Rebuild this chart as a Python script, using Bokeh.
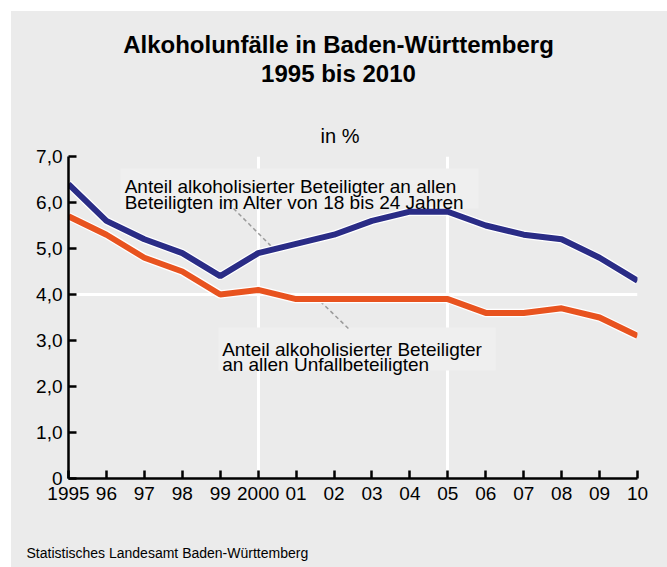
from bokeh.plotting import figure
from bokeh.layouts import column
from bokeh.models import Range1d, FixedTicker, Label, BoxAnnotation, Title
from bokeh.embed import file_html
from bokeh.resources import INLINE

# ---- data ----
years = [1995, 1996, 1997, 1998, 1999, 2000, 2001, 2002, 2003, 2004,
         2005, 2006, 2007, 2008, 2009, 2010]
young_share = [6.4, 5.6, 5.2, 4.9, 4.4, 4.9, 5.1, 5.3, 5.6, 5.8,
               5.8, 5.5, 5.3, 5.2, 4.8, 4.3]
all_share = [5.7, 5.3, 4.8, 4.5, 4.0, 4.1, 3.9, 3.9, 3.9, 3.9,
             3.9, 3.6, 3.6, 3.7, 3.5, 3.1]
x_tick_labels = ["1995", "96", "97", "98", "99", "2000", "01", "02", "03",
                 "04", "05", "06", "07", "08", "09", "10"]
y_ticks = [0, 1, 2, 3, 4, 5, 6, 7]
y_tick_labels = ["0", "1,0", "2,0", "3,0", "4,0", "5,0", "6,0", "7,0"]

title1 = "Alkoholunfälle in Baden-Württemberg"
title2 = "1995 bis 2010"
unit = "in %"
source = "Statistisches Landesamt Baden-Württemberg"
ann_young = ["Anteil alkoholisierter Beteiligter an allen",
             "Beteiligten im Alter von 18 bis 24 Jahren"]
ann_all = ["Anteil alkoholisierter Beteiligter",
           "an allen Unfallbeteiligten"]

# ---- style ----
PANEL = "#ebebeb"
BOX = "#efefef"
BLUE = "#2a2c86"
ORANGE = "#e8531f"
FONT = "Liberation Sans"
W = 656
BL, BR = 57, 30   # left / right borders shared by all stacked figures


def strip(height, x_range, y_range):
    f = figure(width=W, height=height, title=None,
               x_range=x_range, y_range=y_range,
               output_backend="svg", toolbar_location=None,
               x_axis_location=None, y_axis_location=None,
               min_border_left=BL, min_border_right=BR,
               min_border_top=0, min_border_bottom=0,
               background_fill_color=PANEL, border_fill_color=PANEL,
               outline_line_color=None)
    f.grid.visible = False
    return f


def lab(fig, x, y, text, size, bold=False, align="left"):
    fig.add_layout(Label(x=x, y=y, text=text, text_font=FONT,
                         text_font_size=size,
                         text_font_style="bold" if bold else "normal",
                         text_color="black", text_align=align,
                         text_baseline="alphabetic"))


# ---- header strip ----
top = strip(135, Range1d(68, 637), Range1d(146, 11))
lab(top, 338, 44, title1, "24px", bold=True, align="center")
lab(top, 338, 73, title2, "24px", bold=True, align="center")
lab(top, 339.5, 135, unit, "20px", align="center")

# ---- main chart ----
p = figure(width=W, height=384,
           x_range=Range1d(1995, 2010), y_range=Range1d(0, 7),
           output_backend="svg", toolbar_location=None,
           min_border_left=BL, min_border_right=BR,
           min_border_top=10, min_border_bottom=52,
           background_fill_color=PANEL, border_fill_color=PANEL,
           outline_line_color=None)

p.xgrid.ticker = FixedTicker(ticks=[2000, 2005, 2010])
p.ygrid.ticker = FixedTicker(ticks=[4, 7])
p.grid.grid_line_color = "white"
p.grid.grid_line_width = 3

p.xaxis.ticker = FixedTicker(ticks=years)
p.xaxis.major_label_overrides = {y: l for y, l in zip(years, x_tick_labels)}
p.yaxis.ticker = FixedTicker(ticks=y_ticks)
p.yaxis.major_label_overrides = {t: l for t, l in zip(y_ticks, y_tick_labels)}
for ax in (p.xaxis, p.yaxis):
    ax.axis_line_color = "black"
    ax.axis_line_width = 2.5
    ax.major_tick_line_color = "black"
    ax.major_tick_line_width = 2.5
    ax.major_tick_in = 8
    ax.major_tick_out = 0
    ax.minor_tick_line_color = None
    ax.major_label_text_font = FONT
    ax.major_label_text_font_size = "19px"
    ax.major_label_text_color = "black"
p.xaxis.major_label_standoff = 8
p.yaxis.major_label_standoff = 6

# annotation boxes (background behind the texts)
p.add_layout(BoxAnnotation(left=1996.37, right=2005.81, top=6.74, bottom=5.87,
                           fill_color=BOX, fill_alpha=1, line_color=None,
                           level="underlay"))
p.add_layout(BoxAnnotation(left=1998.95, right=2006.26, top=3.28, bottom=2.35,
                           fill_color=BOX, fill_alpha=1, line_color=None,
                           level="underlay"))

# leader lines
p.segment(x0=[1999.35, 2001.64], y0=[5.87, 3.85],
          x1=[2000.38, 2002.38], y1=[5.02, 3.26],
          line_color="#9a9a9a", line_width=1.5, line_dash="4 3")

# lines with white halo
p.line(years, all_share, line_color="white", line_width=8.5)
p.line(years, all_share, line_color=ORANGE, line_width=6)
p.line(years, young_share, line_color="white", line_width=8.5)
p.line(years, young_share, line_color=BLUE, line_width=6)

lab(p, 1996.48, 6.348, ann_young[0], "19px")
lab(p, 1996.48, 5.993, ann_young[1], "19px")
lab(p, 1999.05, 2.811, ann_all[0], "19px")
lab(p, 1999.05, 2.478, ann_all[1], "19px")

# ---- footer strip ----
bottom = strip(37, Range1d(0, 1), Range1d(0, 1))
bottom.add_layout(Title(text=source, align="left", offset=-42, standoff=14,
                        vertical_align="bottom", text_font=FONT,
                        text_font_size="14px", text_font_style="normal",
                        text_color="black"), "below")

layout = column(top, p, bottom, spacing=0)
layout.margin = (11, 0, 0, 11)
layout.styles = {"background-color": PANEL}

open("out.html", "w").write(file_html(layout, INLINE))
